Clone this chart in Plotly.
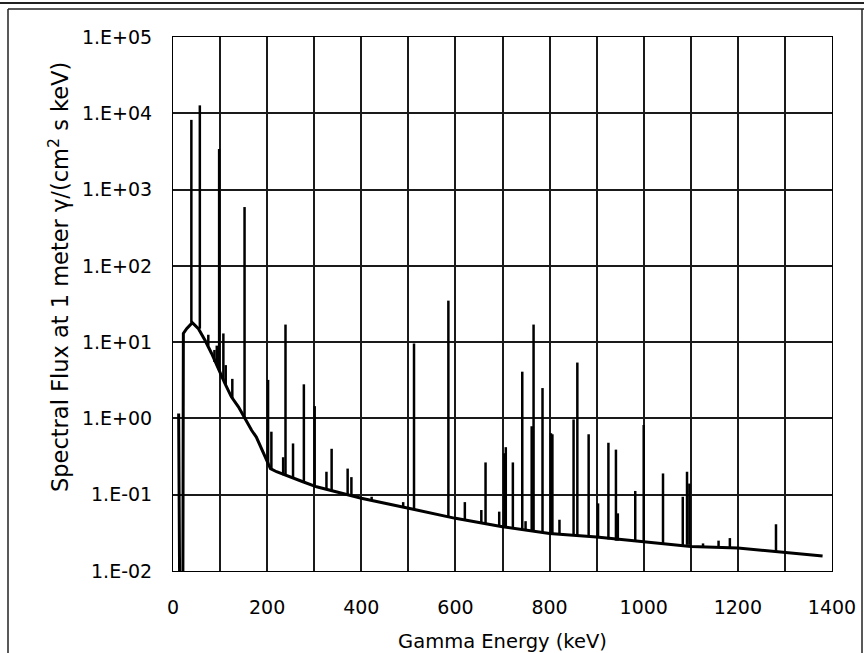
import plotly.graph_objects as go

# ---------------- data ----------------
# smooth continuum of the spectrum (keV, flux)
cont_energy = [12, 14, 21, 22, 29, 41, 54, 68, 82, 96, 110, 124, 139, 153, 167,
               177, 191, 200, 207, 220, 248, 276, 305, 347, 390, 400, 503, 600,
               700, 800, 900, 1000, 1100, 1200, 1300, 1380]
cont_flux = [1.16, 0.008, 0.008, 13, 15, 18, 15, 10.6, 7.1, 4.5, 2.9, 1.92, 1.42,
             1.0, 0.70, 0.57, 0.37, 0.27, 0.22, 0.20, 0.17, 0.148, 0.127, 0.11,
             0.094, 0.09, 0.066, 0.049, 0.038, 0.031, 0.028, 0.024, 0.021,
             0.020, 0.0175, 0.0157]

# gamma lines: energy (keV), peak flux, flux of the continuum under the line
line_energy = [39, 57, 75, 88, 93, 98, 107, 112, 126, 152, 202, 209, 234, 239,
               255, 278, 301, 326, 337, 371, 379, 422, 489, 512, 585, 620, 655,
               664, 693, 704, 707, 722, 742, 749, 762, 766, 785, 803, 806, 821,
               851, 859, 883, 903, 925, 941, 945, 982, 1000, 1041, 1083, 1092,
               1097, 1126, 1159, 1183, 1281]
line_peak = [8200, 12700, 12.5, 7.9, 9, 3400, 13, 5, 3.3, 590, 3.2, 0.67, 0.31,
             17, 0.47, 2.8, 1.45, 0.20, 0.40, 0.22, 0.17, 0.094, 0.08, 9.6, 35,
             0.08, 0.063, 0.265, 0.06, 0.35, 0.42, 0.265, 4.1, 0.045, 0.79, 17,
             2.5, 0.64, 0.62, 0.047, 0.97, 5.4, 0.62, 0.077, 0.48, 0.39, 0.057,
             0.112, 0.82, 0.19, 0.094, 0.20, 0.14, 0.023, 0.025, 0.027, 0.041]
line_base = [18, 15, 9, 5.5, 5, 4.3, 3.2, 2.8, 1.85, 1.0, 0.26, 0.22, 0.18, 0.18,
             0.165, 0.147, 0.13, 0.118, 0.113, 0.1, 0.098, 0.085, 0.068, 0.065,
             0.051, 0.046, 0.042, 0.041, 0.039, 0.038, 0.038, 0.037, 0.035,
             0.034, 0.033, 0.033, 0.032, 0.031, 0.031, 0.030, 0.029, 0.029,
             0.028, 0.027, 0.026, 0.025, 0.025, 0.024, 0.024, 0.023, 0.022,
             0.022, 0.022, 0.021, 0.0205, 0.020, 0.018]

x_tick_vals = [0, 200, 400, 600, 800, 1000, 1200, 1400]
x_tick_text = ["0", "200", "400", "600", "800", "1000", "1200", "1400"]
y_tick_vals = [1e-2, 1e-1, 1e0, 1e1, 1e2, 1e3, 1e4, 1e5]
y_tick_text = ["1.E-02", "1.E-01", "1.E+00", "1.E+01", "1.E+02", "1.E+03",
               "1.E+04", "1.E+05"]

x_title = "Gamma Energy (keV)"
y_title = "Spectral Flux at 1 meter \u03b3/(cm<sup>2</sup> s keV)"

# ---------------- figure ----------------
W, H = 864, 653
ML, MR, MT, MB = 173, 32, 37, 82
FONT = "DejaVu Sans"

lx, ly = [], []
for e, p, b in zip(line_energy, line_peak, line_base):
    lx += [e, e, None]
    ly += [b, p, None]

fig = go.Figure()
fig.add_trace(go.Scatter(x=cont_energy, y=cont_flux, mode="lines",
                         line=dict(color="black", width=3),
                         hoverinfo="skip", showlegend=False))
fig.add_trace(go.Scatter(x=lx, y=ly, mode="lines",
                         line=dict(color="black", width=2.5),
                         hoverinfo="skip", showlegend=False))

grid = "#1a1a1a"
fig.update_xaxes(range=[0, 1400], tickvals=x_tick_vals, ticktext=x_tick_text,
                 showgrid=True, gridcolor=grid, gridwidth=1.5,
                 minor=dict(dtick=100, tick0=0, showgrid=True, gridcolor=grid,
                            gridwidth=1.5),
                 showline=True, mirror=True, linecolor="black", linewidth=1,
                 ticks="", ticklabelstandoff=19, automargin=False,
                 tickfont=dict(family=FONT, size=19, color="black"),
                 title=dict(text=x_title, standoff=17,
                            font=dict(family=FONT, size=19.5, color="black")),
                 zeroline=False)
fig.update_yaxes(type="log", range=[-2, 5], tickvals=y_tick_vals,
                 ticktext=y_tick_text, showgrid=True, gridcolor=grid,
                 gridwidth=1.5, showline=True, mirror=True, linecolor="black",
                 linewidth=1, ticks="", ticklabelstandoff=16, automargin=False,
                 tickfont=dict(family=FONT, size=19, color="black"),
                 zeroline=False)


def px_x(p):
    return (p - ML) / (W - ML - MR)


def px_y(p):
    return (H - MB - p) / (H - MT - MB)


fig.add_annotation(text=y_title, xref="paper", yref="paper",
                   x=px_x(58), y=px_y(277), xanchor="center", yanchor="middle",
                   textangle=-90, showarrow=False,
                   font=dict(family=FONT, size=22.5, color="black"))

frame = dict(type="line", xref="paper", yref="paper",
             line=dict(color="#222222", width=1.5))
fig.add_shape(**frame, x0=px_x(8), x1=px_x(8), y0=px_y(9), y1=px_y(665))
fig.add_shape(**frame, x0=px_x(862), x1=px_x(862), y0=px_y(9), y1=px_y(665))
fig.add_shape(**frame, x0=px_x(8), x1=px_x(870), y0=px_y(9), y1=px_y(9))
fig.add_shape(type="line", xref="paper", yref="paper",
              line=dict(color="#222222", width=2),
              x0=px_x(-5), x1=px_x(870), y0=px_y(3), y1=px_y(3))

fig.update_layout(width=W, height=H, margin=dict(l=ML, r=MR, t=MT, b=MB),
                  paper_bgcolor="white", plot_bgcolor="white",
                  font=dict(family=FONT, color="black"), showlegend=False)

fig.write_html("out.html")
